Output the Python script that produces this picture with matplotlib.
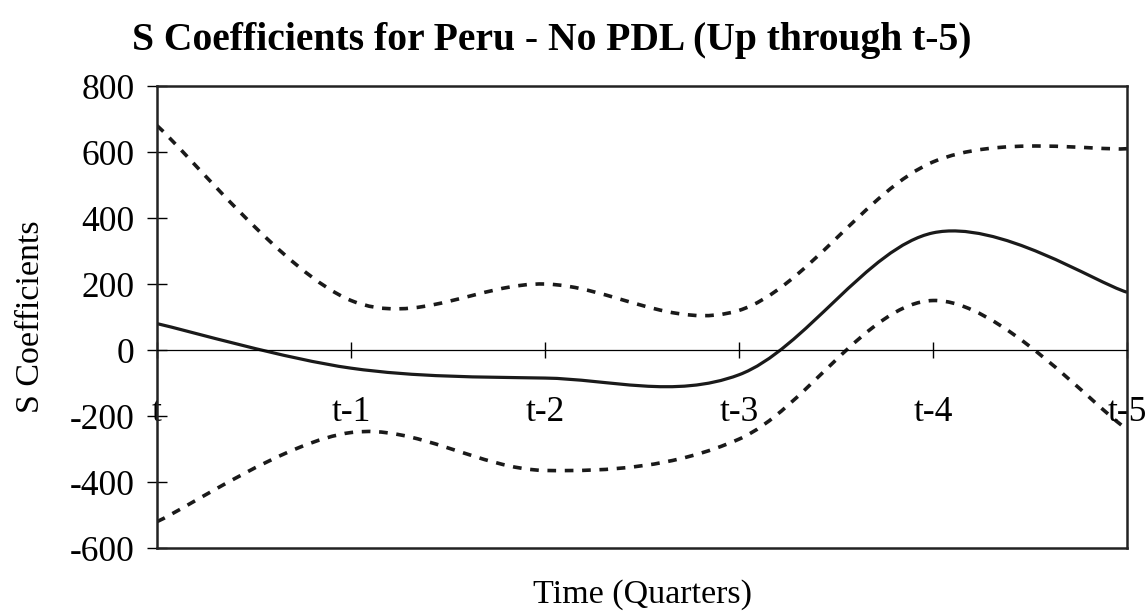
import matplotlib.pyplot as plt
from matplotlib.path import Path
from matplotlib.patches import PathPatch
import numpy as np

plt.rcParams['font.family'] = ['Liberation Serif', 'DejaVu Serif']
plt.rcParams['axes.unicode_minus'] = False

lags = ['t', 't-1', 't-2', 't-3', 't-4', 't-5']
coef = [80, -55, -85, -75, 355, 175]
upper = [680, 150, 200, 120, 570, 610]
lower = [-520, -250, -365, -270, 150, -240]


def smooth_path(xs, ys):
    # Excel-style smoothed line as cubic bezier segments
    pts = np.column_stack([xs, ys]).astype(float)
    n = len(pts)
    verts = [pts[0]]
    codes = [Path.MOVETO]
    for i in range(n - 1):
        p0 = pts[i - 1] if i > 0 else pts[i]
        p1 = pts[i]
        p2 = pts[i + 1]
        p3 = pts[i + 2] if i + 2 < n else pts[i + 1]
        c1 = p1 + (p2 - p0) / 6
        c2 = p2 - (p3 - p1) / 6
        verts += [c1, c2, p2]
        codes += [Path.CURVE4] * 3
    return Path(verts, codes)


fig = plt.figure(figsize=(11.47, 6.13), dpi=100)
ax = fig.add_axes([0.1369, 0.106, 0.8457, 0.7537])
x = np.arange(len(lags))

ax.add_patch(PathPatch(smooth_path(x, coef), fill=False, color='#1a1a1a', lw=2.3))
ax.add_patch(PathPatch(smooth_path(x, upper), fill=False, color='#1a1a1a', lw=2.6,
                       linestyle=(0, (2.4, 2.4))))
ax.add_patch(PathPatch(smooth_path(x, lower), fill=False, color='#1a1a1a', lw=2.6,
                       linestyle=(0, (2.4, 2.4))))

ax.set_xlim(0, len(lags) - 1)
ax.set_ylim(-600, 800)
ax.set_yticks(range(-600, 801, 200))
ax.set_xticks(x)
ax.set_xticklabels(lags)

ax.spines['bottom'].set_position(('data', 0))
ax.spines['bottom'].set_linewidth(0.9)
for s in ['top', 'left', 'right']:
    ax.spines[s].set_linewidth(1.8)
    ax.spines[s].set_color('#222222')
ax.axhline(-600, color='#222222', lw=1.8, clip_on=False)

ax.tick_params(axis='y', direction='inout', length=14, width=1.0, labelsize=25.5, pad=9)
ax.tick_params(axis='x', direction='inout', length=12, width=1.0, labelsize=25.5, pad=27)

ax.set_ylabel('S Coefficients', fontsize=24.5, labelpad=17)
ax.set_xlabel('Time (Quarters)', fontsize=24.5)
ax.xaxis.set_label_coords(0.5, -0.068)
ax.set_title('S Coefficients for Peru - No PDL (Up through t-5)', fontsize=28.5,
             fontweight='bold', x=0.407, pad=26)

fig.savefig('out.png', dpi=100)
